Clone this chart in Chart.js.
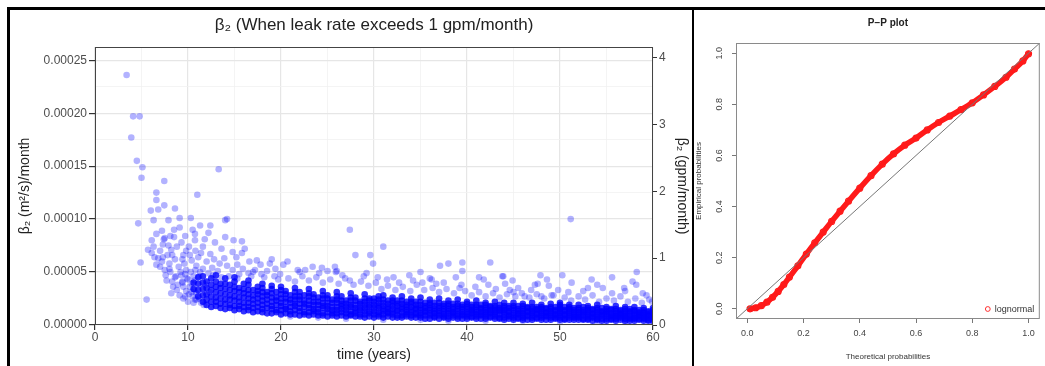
<!DOCTYPE html>
<html>
<head>
<meta charset="utf-8">
<script src="https://cdn.jsdelivr.net/npm/chart.js@4.4.0/dist/chart.umd.min.js"></script>
<style>
    html, body { margin: 0; padding: 0; background: #fff; }
    body { width: 1045px; height: 366px; position: relative; overflow: hidden; }
    .frame-top { position: absolute; left: 7px; top: 7px; width: 1038px; height: 3px; background: #000; }
    .frame-left { position: absolute; left: 7px; top: 7px; width: 3px; height: 359px; background: #000; }
    .divider { position: absolute; left: 692px; top: 7px; width: 2px; height: 359px; background: #000; }
    #scatterChart { position: absolute; left: 11px; top: 10px; }
    #ppChart { position: absolute; left: 694px; top: 10px; }
</style>
</head>
<body>
<div class="frame-top"></div>
<div class="frame-left"></div>
<div class="divider"></div>
<canvas id="scatterChart" width="681" height="356"></canvas>
<canvas id="ppChart" width="351" height="356"></canvas>

<script>
// ===== DATA =====
// beta2 values are read in units of 1e-6 m^2/s
const MICRO = 1e-6;
const GPM = 6.309e-5;   // 1 gpm in m^3/s
const yMaxMicro = 262.5;

const xTicks = [0, 5, 10, 15, 20, 25, 30, 35, 40, 45, 50, 55, 60];
const yTicksMicro = [0, 25, 50, 75, 100, 125, 150, 175, 200, 225, 250];
const y2Ticks = [0, 1, 2, 3, 4];

// dense part of the cloud: [time, [beta2 values at that time]]
const denseCols = [
    [10.6,[34,40]], [11.1,[27,33,39,45]], [11.6,[22,28,34,40,46]], [12.0,[19,24,29,35,41]], [12.5,[17,22,27,33,38,44]],
    [13.0,[18,22,26,31,36,41,47]], [13.5,[16,20,25,30,35,39]], [14.0,[15,20,24,29,34,39,44]], [14.5,[16,19,24,28,33,38]],
    [15.0,[14,18,23,27,32,36,41,45]], [15.5,[15,18,22,26,31,35]], [16.0,[13,17,21,26,30,34,39]], [16.5,[14,17,21,25,29,33,38,42]],
    [17.0,[12,16,20,24,28,33]], [17.5,[13,17,21,25,29,32,36]], [18.0,[12,15,19,23,27,31,35,39]], [18.5,[11,16,20,24,28,31]],
    [19.0,[11,15,18,22,26,30,34,37]], [19.5,[12,14,19,23,26,31]], [20.0,[10,14,18,21,25,29,33,36]], [20.5,[11,15,17,22,25,29,32]],
    [21.0,[10,13,17,21,24,28]], [21.5,[10,14,18,20,24,27,31,35]], [22.0,[9,13,16,20,24,27,31]], [22.5,[10,12,17,20,23,28]],
    [23.0,[9,12,16,19,23,27,30,34]], [23.5,[10,13,15,19,22,26,29]], [24.0,[9,12,15,19,22,26]], [24.5,[9,11,16,18,21,25,28,32]],
    [25.0,[8,12,15,18,21,25,28]], [25.5,[9,11,14,17,21,24]], [26.0,[8,11,14,17,21,24,27,31]], [26.5,[9,12,15,18,20,23,27]],
    [27.0,[8,11,14,17,20,23]], [27.5,[9,10,13,17,19,23,26,30]], [28.0,[8,11,13,16,19,23,26]], [28.5,[8,10,14,16,20,22]],
    [29.0,[7,10,13,16,19,22,25,29]], [29.5,[8,11,13,17,19,23,25]], [30.0,[7,10,13,16,19,22,25]], [30.5,[8,10,12,16,18,21,24,27]],
    [31.0,[7,10,13,15,18,21,24,28]], [31.5,[8,11,12,15,17,20,23]], [32.0,[7,10,12,15,18,21,23,26]], [32.5,[7,9,13,14,18,20,23]],
    [33.0,[7,9,12,15,17,20,23,27]], [33.5,[8,10,12,14,17,19,22]], [34.0,[7,9,12,14,17,20,22,25]], [34.5,[7,10,11,15,16,19,22]],
    [35.0,[7,9,11,14,16,19,22,26]], [35.5,[6,9,12,13,16,18,21]], [36.0,[6,9,11,14,16,19,21,24]], [36.5,[7,8,11,13,15,18,21]],
    [37.0,[6,9,11,13,16,18,21,25]], [37.5,[7,8,10,13,15,18,20]], [38.0,[6,8,11,13,15,18,20,23]], [38.5,[7,9,11,12,15,17,20]],
    [39.0,[6,8,10,13,15,18,20,24]], [39.5,[6,9,10,12,15,17,19]], [40.0,[6,8,10,12,15,17,20,22]], [40.5,[7,8,11,13,14,17,19]],
    [41.0,[6,8,10,12,14,17,19,23]], [41.5,[6,9,10,12,15,16,19]], [42.0,[6,8,10,12,14,16,19,21]], [42.5,[7,8,11,12,14,17,18]],
    [43.0,[6,8,10,12,14,16,18,22]], [43.5,[6,7,10,13,14,16,19]], [44.0,[5,7,10,12,14,16,18,21]], [44.5,[6,8,9,12,13,16,18]],
    [45.0,[5,7,9,11,14,16,18,21]], [45.5,[6,7,10,11,13,15,18]], [46.0,[5,7,9,11,13,15,18,20]], [46.5,[5,8,9,12,13,16,17]],
    [47.0,[5,7,9,11,13,15,17,21]], [47.5,[6,7,10,11,14,15,17]], [48.0,[5,7,9,11,13,15,17,19]], [48.5,[5,8,9,11,12,15,16]],
    [49.0,[5,7,9,11,13,15,17,20]], [49.5,[6,7,9,10,13,14,17]], [50.0,[5,7,9,11,13,15,17,19,21]], [50.5,[5,6,9,10,13,14,17]],
    [51.0,[5,7,9,11,13,15,17,19]], [51.5,[5,7,8,10,12,14,16]], [52.0,[5,7,8,10,12,14,16,19]], [52.5,[5,6,9,11,12,14,17]],
    [53.0,[5,6,8,10,12,14,16,18]], [53.5,[4,7,8,10,11,14,15]], [54.0,[5,6,8,10,12,14,16,19]], [54.5,[4,6,9,10,12,13,16]],
    [55.0,[4,6,8,10,12,13,15,17]], [55.5,[5,6,8,9,11,14,15]], [56.0,[4,6,8,9,11,13,15,18]], [56.5,[5,7,8,10,11,13,14]],
    [57.0,[4,6,8,9,11,13,15,17]], [57.5,[4,6,7,9,12,13,15]], [58.0,[4,6,7,9,11,13,14,17]], [58.5,[5,6,8,9,11,12,14]],
    [59.0,[4,6,7,9,11,12,14,16]], [59.5,[4,5,7,9,10,12,13]], [60.0,[4,6,7,9,10,12,14,16]]
];

// scattered points around the cloud: [time, beta2]
const sparsePoints = [
    [3.4,236],[4.1,197],[4.8,197],[3.9,177],[4.5,155],[5.1,149],[5.0,139],[13.3,147],[7.45,136],[6.6,125],
    [11.0,123],[6.6,118],[7.45,113],[6.0,108],[6.8,109],[6.3,99],[4.65,96],[8.6,110],[7.9,99],[9.1,101],
    [10.3,101],[14.2,100],[5.55,24],[4.9,59],[11.3,94],[12.4,94],[14.9,80],[14.0,83],[27.4,90],[28.0,66],
    [29.6,66],[31.0,74],[29.9,58],[37.1,56],[38.0,58],[39.5,59],[39.5,51],[42.5,59],[41.3,45],[33.8,47],
    [32.1,45],[31.4,43],[51.15,100],[58.25,50],[50.25,47],[48.6,43],[47.3,38],[47.6,39],[51.25,40],[43.8,46],
    [44.1,39],[54.6,35],[53.0,35],[57.0,32],[58.9,30],[59.9,22],[15.8,79],[14.8,69],[15.8,68],[17.4,61],
    [19.0,62],[18.8,58],[20.25,57],[20.7,60],[21.8,52],[25.0,51],[26.0,51],[27.4,42],[29.2,49],[36.2,43],
    [36.7,39],[35.2,40],[43.9,46],[39.4,38],[39.2,35],[49.8,33],[49.3,28],[48.0,27],[46.2,27],[44.6,33],[45.0,31],
    [7.2,89],[6.6,86],[8.5,90],[8.5,83],[9.1,92],[10.75,86],[12.2,87],[7.4,81],[7.5,82],[6.1,80],
    [6.3,74],[5.7,71],[6.1,68],[11.8,81],[10.75,80],[11.6,74],[10.1,74],[12.4,67],[11.1,64],[10.4,61],
    [9.5,66],[6.6,57],[7.0,55],[7.5,52],[7.7,42],[8.4,36],[9.5,36],[9.7,27],[10.75,24],[10.4,31],[14.0,99],
    [6.8,63],[7.2,60],[7.8,66],[8.2,71],[8.8,74],[9.3,78],[9.8,70],[8.0,58],[8.6,62],[9.0,55],
    [9.6,58],[7.6,47],[8.1,50],[8.7,46],[9.2,50],[9.9,44],[8.3,41],[8.9,38],[9.4,41],[7.9,75],
    [7.0,70],[10.2,66],[10.8,70],[11.4,68],[12.0,60],[12.8,62],[13.4,58],[13.9,63],[12.6,54],[13.2,51],
    [14.2,56],[14.8,52],[15.3,57],[15.9,53],[16.5,49],[17.2,52],[17.9,48],[18.5,51],[19.3,46],[19.9,48],
    [10.9,56],[11.6,53],[6.4,64],[7.3,76],[8.1,84],[9.7,84],[10.5,90],[13.6,72],[12.9,78],[15.2,64],
    [16.6,60],[16.1,72],[15.5,48],[16.8,46],[18.2,45],[17.0,50],[19.7,43],[22.6,52],[24.4,54],[25.9,50],
    [8.2,30],[8.8,33],[9.1,28],[8.6,45],[9.3,47],[8.0,53],[9.4,62],[7.3,64],[8.3,66],[9.8,52],
    [9.5,25],[9.8,32],[9.4,40],[9.7,48],[10.0,22],[10.1,29],[10.2,36],[10.0,43],[10.3,50],[10.6,21],
    [10.5,27],[10.7,33],[10.4,39],[10.6,46],[10.8,52],[10.9,24],[10.9,30],[10.7,42],[11.2,46],[11.3,50],
    [11.4,21],[11.2,25],[11.7,19],[12.2,49],[12.7,47],[13.6,45],[14.4,46],[15.3,44],[11.9,38],[12.3,31],
    [20.8,44],[21.5,41],[22.3,46],[23.0,42],[23.8,45],[24.5,40],[25.3,43],[26.2,39],[26.9,44],[27.8,38],
    [28.6,41],[29.4,37],[30.2,40],[22.0,50],[24.1,49],[26.6,47],[28.9,46],[23.4,55],[19.4,53],[17.8,57],[25.8,55],
    [30.8,34],[31.5,37],[32.3,33],[33.1,36],[33.9,32],[34.6,38],[35.4,33],[36.3,35],[37.0,31],[37.8,34],
    [38.6,30],[39.8,32],[32.7,40],[34.2,42],[36.0,44],[37.5,40],[38.8,45],[30.4,45],[35.0,50],
    [40.5,28],[41.3,31],[42.0,27],[42.8,30],[43.5,26],[44.3,29],[45.2,27],[45.9,30],[46.7,26],[47.5,29],
    [48.3,25],[49.1,28],[40.9,36],[42.3,38],[43.1,34],[45.5,35],[46.9,33],[48.8,37],[41.8,43],[44.9,42],[47.9,47],
    [50.5,26],[51.2,23],[52.0,27],[52.7,24],[53.5,28],[54.2,22],[55.0,25],[55.8,23],[56.5,27],[57.3,22],
    [58.1,25],[58.8,21],[59.6,24],[50.9,31],[52.5,32],[55.6,30],[56.9,35],[59.3,28],[54.0,38],[57.8,41],
    [53.4,43],[55.6,45],[58.2,38],
    [21,8],[24,7],[27,6],[31,5],[35,5],[38,4],[42,4],[46,4],[50,3],[54,3],[57,3],[60,3]
];

// P-P plot (lognormal fit)
const ppTheoretical = [0.01,0.03,0.05,0.07,0.09,0.11,0.13,0.15,0.18,0.21,0.24,0.27,0.30,0.33,0.36,0.40,
                       0.44,0.48,0.52,0.56,0.60,0.64,0.68,0.72,0.76,0.80,0.84,0.88,0.92,0.95,0.98,1.00];
const ppEmpirical   = [0.000,0.004,0.012,0.026,0.045,0.068,0.095,0.124,0.168,0.214,0.258,0.300,0.342,0.382,0.421,0.472,
                       0.521,0.566,0.606,0.640,0.668,0.700,0.729,0.754,0.779,0.806,0.837,0.870,0.906,0.938,0.970,0.998];
const ppTicks = [0, 0.2, 0.4, 0.6, 0.8, 1.0];
const ppMin = -0.04, ppMax = 1.04;

// ===== HELPERS =====
const FONT = '"Liberation Sans", Arial, Helvetica, sans-serif';
Chart.defaults.font.family = FONT;

const densePts = [];
denseCols.forEach(([t, vals]) => vals.forEach(v => densePts.push({ x: t, y: v * MICRO })));
const sparsePts = sparsePoints.map(([t, v]) => ({ x: t, y: v * MICRO }));

const isMajorX = v => Math.round(v) % 10 === 0;
const isMajorY = v => Math.round(v / (25 * MICRO)) % 2 === 0;

// draws the frame around the plot area
const panelBorder = {
    id: 'panelBorder',
    afterDatasetsDraw(chart, args, opts) {
        const { ctx, chartArea: a } = chart;
        ctx.save();
        ctx.strokeStyle = opts.color;
        ctx.lineWidth = 1;
        ctx.strokeRect(a.left + 0.5, a.top + 0.5, a.right - a.left - 1, a.bottom - a.top - 1);
        ctx.restore();
    }
};

// ===== SCATTER =====
new Chart(document.getElementById('scatterChart'), {
    type: 'scatter',
    data: {
        datasets: [
            { data: densePts, backgroundColor: 'rgba(0,0,255,0.8)', borderWidth: 0, pointRadius: 3.3, yAxisID: 'y' },
            { data: sparsePts, backgroundColor: 'rgba(0,0,255,0.3)', borderWidth: 0, pointRadius: 3.3, yAxisID: 'y' }
        ]
    },
    options: {
        responsive: false,
        animation: false,
        devicePixelRatio: 1,
        events: [],
        layout: { padding: 0 },
        plugins: {
            legend: { display: false },
            tooltip: { enabled: false },
            title: {
                display: true,
                fullSize: false,
                text: 'β₂ (When leak rate exceeds 1 gpm/month)',
                color: '#222',
                font: { size: 17, weight: 'normal' },
                padding: { top: 5, bottom: 11.6 }
            },
            panelBorder: { color: '#444' }
        },
        scales: {
            x: {
                type: 'linear', min: xTicks[0], max: xTicks[xTicks.length - 1],
                afterBuildTicks: s => { s.ticks = xTicks.map(v => ({ value: v })); },
                afterFit: s => { s.height = 41; },
                border: { display: false },
                grid: {
                    color: c => isMajorX(c.tick.value) ? '#e6e6e6' : '#f1f1f1',
                    lineWidth: c => isMajorX(c.tick.value) ? 1.2 : 0.8,
                    tickColor: c => isMajorX(c.tick.value) ? '#333' : 'rgba(0,0,0,0)',
                    tickLength: 5
                },
                ticks: {
                    autoSkip: false, maxRotation: 0, padding: 0,
                    color: '#4d4d4d', font: { size: 12 },
                    callback: v => isMajorX(v) ? String(v) : ''
                },
                title: {
                    display: true, text: 'time (years)', color: '#222',
                    font: { size: 14 }, padding: { top: 0, bottom: 2.6 }
                }
            },
            y: {
                type: 'linear', position: 'left', min: 0, max: yMaxMicro * MICRO,
                afterBuildTicks: s => { s.ticks = yTicksMicro.map(v => ({ value: v * MICRO })); },
                afterFit: s => { s.width = 84; },
                border: { display: false },
                grid: {
                    color: c => isMajorY(c.tick.value) ? '#e6e6e6' : '#f1f1f1',
                    lineWidth: c => isMajorY(c.tick.value) ? 1.2 : 0.8,
                    tickColor: c => isMajorY(c.tick.value) ? '#333' : 'rgba(0,0,0,0)',
                    tickLength: 6
                },
                ticks: {
                    autoSkip: false, padding: 2,
                    color: '#4d4d4d', font: { size: 12 },
                    callback: v => isMajorY(v) ? v.toFixed(5) : ''
                },
                title: {
                    display: true, text: 'β₂ (m²/s)/month', color: '#222',
                    font: { size: 14 }, padding: { top: 6, bottom: 0 }
                }
            },
            y2: {
                type: 'linear', position: 'right', min: 0, max: yMaxMicro * MICRO / GPM,
                afterBuildTicks: s => { s.ticks = y2Ticks.map(v => ({ value: v })); },
                afterFit: s => { s.width = 39; },
                border: { display: false },
                grid: { drawOnChartArea: false, tickColor: '#333', tickLength: 4 },
                ticks: { autoSkip: false, padding: 2, color: '#4d4d4d', font: { size: 12 } },
                title: {
                    display: true, text: 'β₂ (gpm/month)', color: '#222',
                    font: { size: 14 }, padding: { top: 1.5, bottom: 0 }
                }
            }
        }
    },
    plugins: [panelBorder]
});

// ===== P-P PLOT =====
const ppExtras = {
    id: 'ppExtras',
    afterDraw(chart) {
        const { ctx, chartArea: a, scales: { y } } = chart;
        ctx.save();
        // rotated y tick labels (base R style)
        ctx.font = '9px ' + FONT;
        ctx.fillStyle = '#444';
        ctx.textAlign = 'center';
        ctx.textBaseline = 'middle';
        ppTicks.forEach(v => {
            ctx.save();
            ctx.translate(a.left - 16, y.getPixelForValue(v));
            ctx.rotate(-Math.PI / 2);
            ctx.fillText(v.toFixed(1), 0, 0);
            ctx.restore();
        });
        // legend
        const lx = a.right - 52, ly = a.bottom - 10;
        ctx.strokeStyle = '#ff3030';
        ctx.lineWidth = 1;
        ctx.beginPath();
        ctx.arc(lx, ly, 2.4, 0, Math.PI * 2);
        ctx.stroke();
        ctx.textAlign = 'left';
        ctx.fillStyle = '#333';
        ctx.fillText('lognormal', lx + 7, ly + 0.5);
        ctx.restore();
    }
};

new Chart(document.getElementById('ppChart'), {
    type: 'scatter',
    data: {
        datasets: [
            {
                type: 'line',
                data: [{ x: ppMin, y: ppMin }, { x: ppMax, y: ppMax }],
                borderColor: '#777', borderWidth: 1, pointRadius: 0
            },
            {
                data: ppTheoretical.map((t, i) => ({ x: t, y: ppEmpirical[i] })),
                showLine: true,
                cubicInterpolationMode: 'monotone',
                borderColor: '#ff1a1a', borderWidth: 5.5, borderCapStyle: 'round',
                pointRadius: 3, pointBorderWidth: 1.2,
                pointBorderColor: '#ff1a1a', pointBackgroundColor: 'rgba(255,255,255,0)'
            }
        ]
    },
    options: {
        responsive: false,
        animation: false,
        devicePixelRatio: 1,
        events: [],
        layout: { padding: { right: 2 } },
        plugins: {
            legend: { display: false },
            tooltip: { enabled: false },
            title: {
                display: true, fullSize: false, text: 'P−P plot', color: '#222',
                font: { size: 10, weight: 'bold' }, padding: { top: 7, bottom: 14 }
            },
            panelBorder: { color: '#8a8a8a' }
        },
        scales: {
            x: {
                type: 'linear', min: ppMin, max: ppMax,
                afterBuildTicks: s => { s.ticks = ppTicks.map(v => ({ value: v })); },
                afterFit: s => { s.height = 47; },
                border: { display: false },
                grid: { drawOnChartArea: false, tickColor: '#777', tickLength: 4 },
                ticks: {
                    autoSkip: false, maxRotation: 0, padding: 5.6,
                    color: '#444', font: { size: 9 }, callback: v => v.toFixed(1)
                },
                title: {
                    display: true, text: 'Theoretical probabilities', color: '#333',
                    font: { size: 8 }, padding: { top: 0, bottom: 4 }
                }
            },
            y: {
                type: 'linear', min: ppMin, max: ppMax,
                afterBuildTicks: s => { s.ticks = ppTicks.map(v => ({ value: v })); },
                afterFit: s => { s.width = 42; },
                border: { display: false },
                grid: { drawOnChartArea: false, tickColor: '#777', tickLength: 4 },
                ticks: { display: false },
                title: {
                    display: true, text: 'Empirical probabilities', color: '#333',
                    font: { size: 8 }, padding: { top: 0, bottom: 0 }
                }
            }
        }
    },
    plugins: [panelBorder, ppExtras]
});
</script>
</body>
</html>
